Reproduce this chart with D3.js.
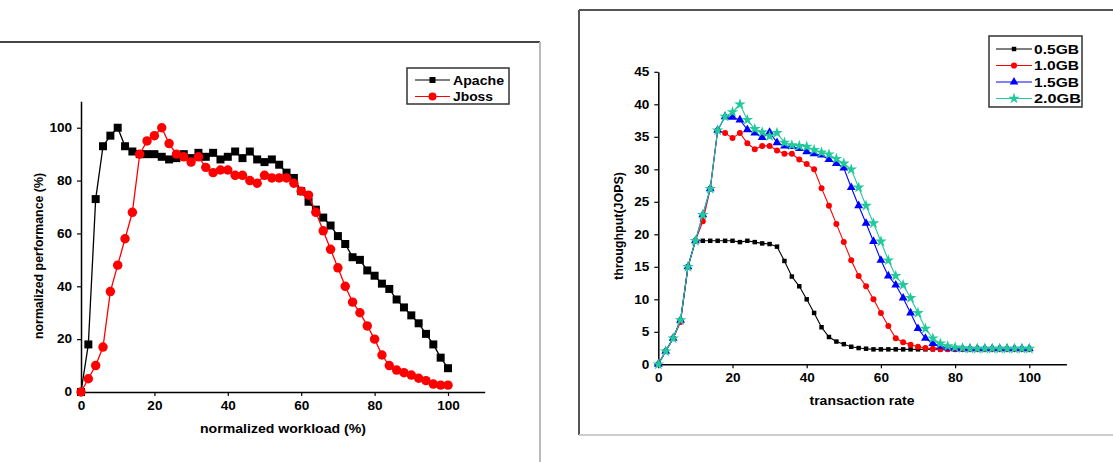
<!DOCTYPE html>
<html>
<head>
<meta charset="utf-8">
<script src="https://cdn.jsdelivr.net/npm/d3@7"></script>
<style>
  body { margin: 0; background: #fff; }
  svg { display: block; }
  text { font-family: "Liberation Sans", Arial, sans-serif; font-weight: bold; }
</style>
</head>
<body>
<svg id="chart" width="1113" height="462"></svg>
<script>

// left panel: normalized performance vs workload
var workload = [0,2,4,6,8,10,12,14,16,18,20,22,24,26,28,30,32,34,36,38,40,42,44,46,48,50,
	52,54,56,58,60,62,64,66,68,70,72,74,76,78,80,82,84,86,88,90,92,94,96,98,100];
var apache = [0,18,73,93,97,100,93,91,90,90,90,89,88,88.5,90,88.5,90.5,89,90.5,88,89,91,88.5,91,88,87,
	88,86,83,81,76,72,69,66,63,59,56,51,50,46,44,41,39,35,32,29,26,22,18,13,9];
var jboss = [0,5,10,17,38,48,58,68,90,95,97,100,94,90,89,87,89,85,83,84,84,82,82,80,79,82,
	81,81,81,79,76,74.5,68,61,54,47,40,34,30,25,20,14,10,8.3,7.3,6.4,5.2,4.3,3,2.6,2.6];
var leftNames = ['Apache', 'Jboss'];

// right panel: throughput vs transaction rate
var rate = [0,2,4,6,8,10,12,14,16,18,20,22,24,26,28,30,32,34,36,38,40,42,44,46,48,50,
	52,54,56,58,60,62,64,66,68,70,72,74,76,78,80,82,84,86,88,90,92,94,96,98,100];
var gb05 = [0,2,4,6.8,15,19,19,19,19,19,19,18.8,19,18.8,18.6,18.5,18.1,15.9,13.5,12,10,7.9,5.7,4.2,3.5,3.1,
	2.7,2.5,2.4,2.3,2.3,2.3,2.3,2.3,2.3,2.3,2.3,2.3,2.3,2.3,2.3,2.3,2.3,2.3,2.3,2.3,2.3,2.3,2.3,2.3,2.3];
var gb10 = [0,2,4,6.5,15,19,22,27,36,35.6,34.8,35.6,34,33.1,33.6,33.6,32.9,32.4,32.4,31.5,30.8,30,27.1,24.4,21.6,18.8,
	16,13.6,12,10,7.9,5.9,4,3.4,3,2.7,2.5,2.4,2.3,2.3,2.3,2.3,2.3,2.3,2.3,2.3,2.3,2.3,2.3,2.3,2.3];
var gb15 = [0,2,4,6.8,15,19,23,27,36,38.1,38,37.6,36.1,35.6,34.9,35.7,34.1,33.6,33.5,33.2,32.7,32.4,32.2,31.5,30.9,30.2,
	27.2,24.4,21.7,18.9,16,13.6,12.2,10.2,7.9,5.5,4,3.2,2.8,2.5,2.4,2.4,2.4,2.4,2.4,2.4,2.4,2.4,2.4,2.4,2.4];
var gb20 = [0,2,4,6.8,15,19,23,27,36,38.1,38.8,40,37.6,36.2,35.7,35.1,35.6,34.1,33.7,33.6,33.5,33,32.6,32.3,31.6,30.9,
	30,27.2,24.4,21.7,18.9,16,13.6,12.2,10.2,7.9,5.5,4,3.2,2.8,2.6,2.5,2.4,2.4,2.4,2.4,2.4,2.4,2.4,2.4,2.4];
var rightNames = ['0.5GB', '1.0GB', '1.5GB', '2.0GB'];

var svg = d3.select('#chart');

// the scanned figure has wide, heavy lettering: stretch text to the widths seen
var stretch = function (sel, w) {
	sel.attr('textLength', w).attr('lengthAdjust', 'spacingAndGlyphs');
};

// panel frames
svg.append('line').attr('x1', 0).attr('x2', 540).attr('y1', 42).attr('y2', 42)
	.attr('stroke', '#444').attr('stroke-width', 2);
svg.append('line').attr('x1', 540).attr('x2', 540).attr('y1', 42).attr('y2', 462)
	.attr('stroke', '#bbb').attr('stroke-width', 2);
svg.append('line').attr('x1', 579).attr('x2', 1113).attr('y1', 10).attr('y2', 10)
	.attr('stroke', '#555').attr('stroke-width', 2);
svg.append('line').attr('x1', 579).attr('x2', 579).attr('y1', 10).attr('y2', 435)
	.attr('stroke', '#555').attr('stroke-width', 2);
svg.append('line').attr('x1', 579).attr('x2', 1113).attr('y1', 435).attr('y2', 435)
	.attr('stroke', '#ccc').attr('stroke-width', 2);

var drawAxes = function (x, y, xMajor, xMinor, yMajor, yMinor) {
	var h = y.range()[0];
	var l = x.range()[0];

	var gx = svg.append('g').attr('transform', 'translate(0,' + h + ')');
	gx.call(d3.axisBottom(x).tickValues(xMinor).tickSize(3).tickSizeOuter(0).tickFormat(''));
	gx.call(d3.axisBottom(x).tickValues(xMajor).tickSize(4).tickSizeOuter(0).tickPadding(5));

	var gy = svg.append('g').attr('transform', 'translate(' + l + ',0)');
	gy.call(d3.axisLeft(y).tickValues(yMinor).tickSize(3).tickSizeOuter(0).tickFormat(''));
	gy.call(d3.axisLeft(y).tickValues(yMajor).tickSize(4).tickSizeOuter(0).tickPadding(5));

	[gx, gy].forEach(function (g) {
		g.selectAll('path').attr('stroke', '#000').attr('stroke-width', 1.5);
		g.selectAll('line').attr('stroke', '#000').attr('stroke-width', 1.2);
		g.selectAll('text').attr('fill', '#000').style('font-size', '12px')
			.style('font-family', '"Liberation Sans", Arial, sans-serif').style('font-weight', 'bold')
			.each(function () {
				var w = this.getComputedTextLength();
				if (w > 0) stretch(d3.select(this), w * 1.13);
			});
	});
};

var drawSeries = function (x, y, xs, ys, color, symbol, size, lw) {
	var pts = xs.map(function (v, i) { return [v, ys[i]]; });
	var line = d3.line()
		.x(function (d) { return x(d[0]); })
		.y(function (d) { return y(d[1]); });
	svg.append('path').datum(pts).attr('d', line)
		.attr('fill', 'none').attr('stroke', color).attr('stroke-width', lw);
	svg.append('g').selectAll('path').data(pts).enter().append('path')
		.attr('transform', function (d) { return 'translate(' + x(d[0]) + ',' + y(d[1]) + ')'; })
		.attr('d', d3.symbol().type(symbol).size(size))
		.attr('fill', color);
};

var drawLegend = function (bx, by, bw, bh, names, widths, colors, symbols, sizes, rowY, lx1, lx2, tx) {
	svg.append('rect').attr('x', bx).attr('y', by).attr('width', bw).attr('height', bh)
		.attr('fill', '#fff').attr('stroke', '#333').attr('stroke-width', 1.5);
	names.forEach(function (n, i) {
		var yy = rowY[i];
		svg.append('line').attr('x1', lx1).attr('x2', lx2).attr('y1', yy).attr('y2', yy)
			.attr('stroke', colors[i]).attr('stroke-width', 1.2);
		svg.append('path').attr('transform', 'translate(' + ((lx1 + lx2) / 2) + ',' + yy + ')')
			.attr('d', d3.symbol().type(symbols[i]).size(sizes[i])).attr('fill', colors[i]);
		svg.append('text').attr('x', tx).attr('y', yy).attr('dy', '0.36em')
			.style('font-size', '13px').text(n)
			.call(stretch, widths[i]);
	});
};

// ---- left chart
var xL = d3.scaleLinear().domain([0, 110]).range([81, 484.7]);
var yL = d3.scaleLinear().domain([0, 110]).range([392, 101.3]);
drawAxes(xL, yL, [0, 20, 40, 60, 80, 100], [10, 30, 50, 70, 90, 110],
	[0, 20, 40, 60, 80, 100], [10, 30, 50, 70, 90, 110]);
drawSeries(xL, yL, workload, apache, '#000', d3.symbolSquare, 64, 1.3);
drawSeries(xL, yL, workload, jboss, '#ff0000', d3.symbolCircle, 70, 1.3);

svg.append('text').attr('transform', 'translate(43,256) rotate(-90)')
	.attr('text-anchor', 'middle').style('font-size', '12px').text('normalized performance (%)')
	.call(stretch, 166);
svg.append('text').attr('x', 283).attr('y', 433)
	.attr('text-anchor', 'middle').style('font-size', '12.5px').text('normalized workload (%)')
	.call(stretch, 166);

drawLegend(407, 68, 102, 36, leftNames, [51, 40], ['#000', '#ff0000'],
	[d3.symbolSquare, d3.symbolCircle], [36, 50], [80, 96.5], 415, 450, 453);

// ---- right chart
var xR = d3.scaleLinear().domain([0, 110]).range([658.3, 1066.4]);
var yR = d3.scaleLinear().domain([0, 45]).range([364.3, 71.8]);
drawAxes(xR, yR, [0, 20, 40, 60, 80, 100], [10, 30, 50, 70, 90, 110],
	[0, 5, 10, 15, 20, 25, 30, 35, 40, 45], [2.5, 7.5, 12.5, 17.5, 22.5, 27.5, 32.5, 37.5, 42.5]);

var rColors = ['#000', '#ff0000', '#0000ff', '#22c99a'];
var rSymbols = [d3.symbolSquare, d3.symbolCircle, d3.symbolTriangle, d3.symbolStar];
drawSeries(xR, yR, rate, gb05, rColors[0], rSymbols[0], 20, 1.1);
drawSeries(xR, yR, rate, gb10, rColors[1], rSymbols[1], 28, 1.1);
drawSeries(xR, yR, rate, gb15, rColors[2], rSymbols[2], 34, 1.1);
drawSeries(xR, yR, rate, gb20, rColors[3], rSymbols[3], 42, 1.1);

svg.append('text').attr('transform', 'translate(623,226) rotate(-90)')
	.attr('text-anchor', 'middle').style('font-size', '12px').text('throughput(JOPS)')
	.call(stretch, 108);
svg.append('text').attr('x', 862).attr('y', 405)
	.attr('text-anchor', 'middle').style('font-size', '12.5px').text('transaction rate')
	.call(stretch, 105);

drawLegend(989, 36, 93, 71, rightNames, [45, 45, 45, 47], rColors, rSymbols, [20, 30, 32, 40],
	[49, 65.5, 82, 98.5], 996, 1032, 1034);

</script>
</body>
</html>
